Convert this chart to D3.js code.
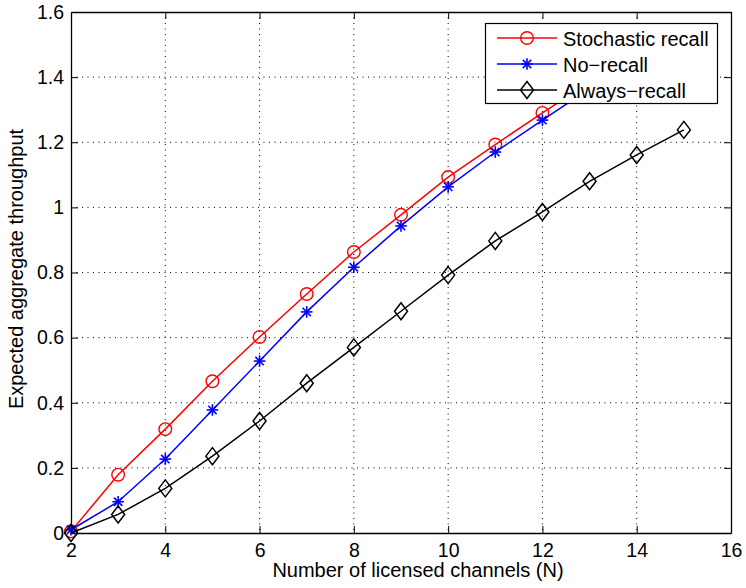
<!DOCTYPE html>
<html>
<head>
  <meta charset='utf-8'>
  <title>Expected aggregate throughput</title>
  <script src='https://cdn.jsdelivr.net/npm/d3@7/dist/d3.min.js'></script>
  <style>
    body { margin: 0; background: #fff; }
    text { font-family: 'Liberation Sans', Arial, sans-serif; }
  </style>
</head>
<body>
  <svg id='chart' width='746' height='588'></svg>
  <script>
    // values
    const stochasticN = [2, 3, 4, 5, 6, 7, 8, 9, 10, 11, 12, 13, 14];
    const stochasticY = [0.005, 0.179, 0.319, 0.466, 0.602, 0.734, 0.863, 0.977, 1.093, 1.193, 1.290, 1.385, 1.478];
    const noRecallN = [2, 3, 4, 5, 6, 7, 8, 9, 10, 11, 12, 13, 14];
    const noRecallY = [0.010, 0.096, 0.227, 0.378, 0.528, 0.679, 0.816, 0.943, 1.063, 1.170, 1.268, 1.365, 1.458];
    const alwaysN = [2, 3, 4, 5, 6, 7, 8, 9, 10, 11, 12, 13, 14, 15];
    const alwaysY = [0.0, 0.057, 0.137, 0.236, 0.344, 0.460, 0.570, 0.681, 0.792, 0.897, 0.986, 1.080, 1.161, 1.238];
    const xTicks = [2, 4, 6, 8, 10, 12, 14, 16];
    const yTicks = [0, 0.2, 0.4, 0.6, 0.8, 1, 1.2, 1.4, 1.6];
    const seriesNames = ['Stochastic recall', 'No\u2212recall', 'Always\u2212recall'];
    const seriesColors = ['#ff0000', '#0000ff', '#000000'];
    const seriesMarkers = ['circle', 'star', 'diamond'];

    const series = [
      { n: stochasticN, y: stochasticY },
      { n: noRecallN, y: noRecallY },
      { n: alwaysN, y: alwaysY }
    ].map((s, i) => ({
      name: seriesNames[i],
      color: seriesColors[i],
      marker: seriesMarkers[i],
      points: s.n.map((n, j) => ({ n: n, v: s.y[j] }))
    }));

    // plot box in pixels (note: `top` is a window global, so avoid it)
    const plotLeft = 71, plotRight = 731, plotTop = 12, plotBottom = 533;
    const tickFont = '19.5px';
    const labelFont = '20px';
    const svg = d3.select('#chart');
    const x = d3.scaleLinear().domain([2, 16]).range([plotLeft, plotRight]);
    const y = d3.scaleLinear().domain([0, 1.6]).range([plotBottom, plotTop]);

    // dotted grid
    const grid = svg.append('g')
      .attr('stroke', '#000')
      .attr('stroke-width', 1)
      .attr('stroke-dasharray', '1,4.5');
    grid.selectAll('.gx').data(xTicks.slice(1, -1)).join('line')
      .attr('x1', d => x(d)).attr('x2', d => x(d))
      .attr('y1', plotTop).attr('y2', plotBottom);
    grid.selectAll('.gy').data(yTicks.slice(1, -1)).join('line')
      .attr('x1', plotLeft).attr('x2', plotRight)
      .attr('y1', d => y(d)).attr('y2', d => y(d));

    // axes, ticks inward on all four sides
    const tickLen = 7;
    const fmt = d => d3.format('~g')(d);
    const gxB = svg.append('g')
      .attr('transform', `translate(0, ${plotBottom})`)
      .call(d3.axisBottom(x).tickValues(xTicks).tickFormat(fmt)
        .tickSizeInner(-tickLen).tickSizeOuter(0).tickPadding(10));
    const gxT = svg.append('g')
      .attr('transform', `translate(0, ${plotTop})`)
      .call(d3.axisTop(x).tickValues(xTicks).tickFormat('')
        .tickSizeInner(-tickLen).tickSizeOuter(0));
    const gyL = svg.append('g')
      .attr('transform', `translate(${plotLeft}, 0)`)
      .call(d3.axisLeft(y).tickValues(yTicks).tickFormat(fmt)
        .tickSizeInner(-tickLen).tickSizeOuter(0).tickPadding(7));
    const gyR = svg.append('g')
      .attr('transform', `translate(${plotRight}, 0)`)
      .call(d3.axisRight(y).tickValues(yTicks).tickFormat('')
        .tickSizeInner(-tickLen).tickSizeOuter(0));
    [gxB, gxT, gyL, gyR].forEach(g => {
      g.select('.domain').attr('stroke', '#000').attr('stroke-width', 1.3);
      g.selectAll('.tick line').attr('stroke', '#000').attr('stroke-width', 1);
      g.selectAll('.tick text')
        .attr('fill', '#000')
        .style('font-size', tickFont)
        .style('font-family', "'Liberation Sans', Arial, sans-serif");
    });

    // axis labels
    svg.append('text')
      .attr('x', 418).attr('y', 577)
      .attr('text-anchor', 'middle')
      .style('font-size', labelFont)
      .text('Number of licensed channels (N)');
    svg.append('text')
      .attr('transform', 'translate(23, 269) rotate(-90)')
      .attr('text-anchor', 'middle')
      .style('font-size', labelFont)
      .text('Expected aggregate throughput');

    // marker drawing
    function drawMarker(g, type, color) {
      if (type === 'circle') {
        g.append('circle').attr('r', 6.3)
          .attr('fill', 'none').attr('stroke', color).attr('stroke-width', 1.4);
      } else if (type === 'star') {
        const r = 5.8, d = r * 0.72;
        const segs = [[-r, 0, r, 0], [0, -r, 0, r], [-d, -d, d, d], [-d, d, d, -d]];
        segs.forEach(s => g.append('line')
          .attr('x1', s[0]).attr('y1', s[1]).attr('x2', s[2]).attr('y2', s[3])
          .attr('stroke', color).attr('stroke-width', 1.6));
      } else {
        g.append('path').attr('d', 'M0,-8.5L6.5,0L0,8.5L-6.5,0Z')
          .attr('fill', 'none').attr('stroke', color).attr('stroke-width', 1.5);
      }
    }

    const line = d3.line().x(d => x(d.n)).y(d => y(d.v));
    series.forEach(s => {
      const g = svg.append('g');
      g.append('path').datum(s.points)
        .attr('d', line)
        .attr('fill', 'none')
        .attr('stroke', s.color)
        .attr('stroke-width', 1.5);
      g.selectAll('.m').data(s.points).join('g')
        .attr('transform', d => `translate(${x(d.n)}, ${y(d.v)})`)
        .each(function () { drawMarker(d3.select(this), s.marker, s.color); });
    });

    // legend
    const lg = svg.append('g');
    lg.append('rect')
      .attr('x', 485.5).attr('y', 23.5).attr('width', 232).attr('height', 80)
      .attr('fill', '#fff').attr('stroke', '#000').attr('stroke-width', 1.2);
    series.forEach((s, i) => {
      const ly = 38 + i * 26;
      lg.append('line')
        .attr('x1', 497).attr('x2', 557).attr('y1', ly).attr('y2', ly)
        .attr('stroke', s.color).attr('stroke-width', 1.5);
      drawMarker(lg.append('g').attr('transform', `translate(527, ${ly})`), s.marker, s.color);
      lg.append('text')
        .attr('x', 563).attr('y', ly + 8)
        .style('font-size', labelFont)
        .text(s.name);
    });
  </script>
</body>
</html>
